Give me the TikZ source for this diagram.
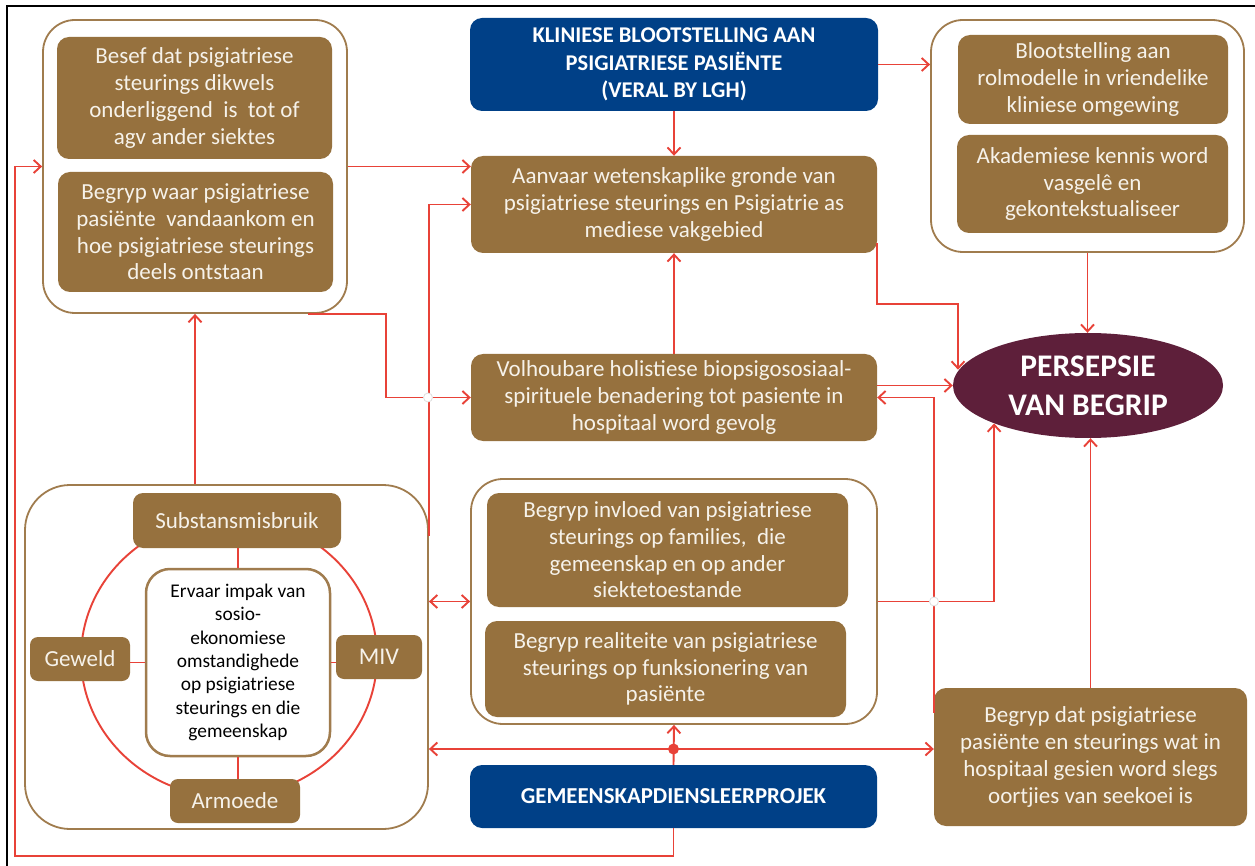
\documentclass[tikz,border=0pt]{standalone}
\usepackage{fontspec}
\setmainfont{Carlito}
\usetikzlibrary{arrows.meta,shapes.geometric,calc}
\definecolor{brn}{RGB}{150,113,62}
\definecolor{brd}{RGB}{160,124,78}
\definecolor{blu}{RGB}{0,64,135}
\definecolor{plum}{RGB}{94,31,58}
\definecolor{lred}{RGB}{232,66,56}
\definecolor{cream}{RGB}{246,242,234}
\begin{document}
\begin{tikzpicture}[x=1pt,y=-1pt,
  sz/.style 2 args={minimum width=#1pt, minimum height=#2pt},
  bx/.style={rounded corners=12pt, fill=brn, text=cream, align=center, inner sep=0pt, font=\fontsize{23}{26.7}\selectfont},
  cont/.style={draw=brd, line width=1.8pt, rounded corners=32pt, fill=white, inner sep=0pt},
  blue/.style={rounded corners=12pt, fill=blu, text=white, align=center, inner sep=0pt, font=\bfseries\fontsize{22.5}{27.5}\selectfont},
  arr/.style={draw=lred, line width=1.9pt, -{Straight Barb[length=7pt,width=13pt,line width=1.9pt]}},
  darr/.style={draw=lred, line width=1.9pt, {Straight Barb[length=7pt,width=13pt,line width=1.9pt]}-{Straight Barb[length=7pt,width=13pt,line width=1.9pt]}},
  ln/.style={draw=lred, line width=1.9pt},
  hop/.style={fill=white, draw=gray!25, line width=0.8pt}
]
\useasboundingbox (0,0) rectangle (1255,866);
\draw[line width=2pt] (7,880) -- (7,6) -- (1270,6);

% containers
\node[cont, sz={304}{293}] (tl) at (195,166.5) {};
\node[cont, sz={313}{232}] (tr) at (1087.5,136) {};
\node[cont, sz={403}{344}, rounded corners=45pt] (bl) at (226.5,657) {};
\node[cont, sz={406}{245}] (mb) at (674,601.5) {};

% top-left
\node[bx, sz={275}{122}] (tl1) at (194.5,98) {Besef dat psigiatriese\\steurings dikwels\\onderliggend\ \ is\ \ tot of\\agv ander siektes};
\node[bx, sz={275}{120}] (tl2) at (195.5,232) {Begryp waar psigiatriese\\pasiënte\ \ vandaankom en\\hoe psigiatriese steurings\\deels ontstaan};

% top centre
\node[blue, sz={408}{93}] (kb) at (674,64.5) {KLINIESE BLOOTSTELLING AAN\\PSIGIATRIESE PASIËNTE\\(VERAL BY LGH)};
\node[bx, sz={406}{97}] (aan) at (674,204.5) {Aanvaar wetenskaplike gronde van\\psigiatriese steurings en Psigiatrie as\\mediese vakgebied};

% top right
\node[bx, sz={270}{89}] (tr1) at (1093,79.5) {Blootstelling aan\\rolmodelle in vriendelike\\kliniese omgewing};
\node[bx, sz={271}{98}] (tr2) at (1092.5,184) {Akademiese kennis word\\vasgelê en\\gekontekstualiseer};

% middle
\node[bx, sz={406}{87}] (vol) at (674,397.5) {Volhoubare holistiese biopsigososiaal-\\spirituele benadering tot pasiente in\\hospitaal word gevolg};
\node[ellipse, fill=plum, text=white, align=center, inner sep=0pt, sz={270}{105}, font=\bfseries\fontsize{31.5}{39}\selectfont] (per) at (1088,385.5) {PERSEPSIE\\VAN BEGRIP};

% middle bottom
\node[bx, sz={361}{114}] (mb1) at (667.5,550) {Begryp invloed van psigiatriese\\steurings op families,\ \ die\\gemeenskap en op ander\\siektetoestande};
\node[bx, sz={361}{96}] (mb2) at (665.5,669) {Begryp realiteite van psigiatriese\\steurings op funksionering van\\pasiënte};
\node[blue, sz={407}{63}, font=\bfseries\fontsize{22.8}{26}\selectfont] (gem) at (673.5,796.5) {GEMEENSKAPDIENSLEERPROJEK};
\node[bx, sz={313}{138}] (bd) at (1090.5,757) {Begryp dat psigiatriese\\pasiënte en steurings wat in\\hospitaal gesien word slegs\\oortjies van seekoei is};

% bottom-left ring
\draw[ln] (229,657) ellipse [x radius=148, y radius=140];
\node[draw=brd, line width=2.5pt, rounded corners=24pt, fill=white, text=black, align=center, inner sep=0pt, sz={184}{187}, font=\fontsize{19.4}{23.3}\selectfont] (ctr) at (238,662.5) {Ervaar impak van\\sosio-\\ekonomiese\\omstandighede\\op psigiatriese\\steurings en die\\gemeenskap};
\node[bx, sz={208}{55}, rounded corners=10pt] (sub) at (237,520.5) {Substansmisbruik};
\node[bx, sz={100}{44}, rounded corners=8pt] (gew) at (80,659) {Geweld};
\node[bx, sz={86}{44}, rounded corners=8pt, font=\fontsize{24}{26}\selectfont] (miv) at (379,657) {MIV};
\node[bx, sz={130}{44}, rounded corners=8pt] (arm) at (235,801) {Armoede};
\draw[ln] (ctr.north) -- (ctr.north |- sub.south);
\draw[ln] (ctr.south) -- (ctr.south |- arm.north);
\draw[ln] (ctr.west) -- (ctr.west -| gew.east);
\draw[ln] (ctr.east) -- (ctr.east -| miv.west);

% connectors
\draw[arr] (kb.east) -- (kb.east -| tr.west);
\draw[arr] (kb.south) -- (aan.north);
\draw[arr] (vol.north) -- (aan.south);
\draw[arr] (tl.east) -- (tl.east -| aan.west);
\draw[arr] ($(bl.north east)+(0,52)$) |- (aan.west);
\draw[arr] ($(tl.south east)+(-40,0)$) -- ++(78,0) |- (vol.west);
\draw[arr] (bl.north -| tl.south) -- (tl.south);
\draw[arr] (gem.south) |- (15,856) |- (tl.west);
\draw[darr] (mb.west) -- (mb.west -| bl.east);
\coordinate (hub) at (673.5,749);
\draw[arr] (gem.north) -- (mb.south);
\draw[arr] (hub) -- (hub -| bl.east);
\draw[arr] (hub) -- (hub -| bd.west);
\fill[lred] (hub) circle (5.5);
\coordinate (lane) at (958,304);
\draw[arr] ($(aan.south east)+(0,-10)$) |- (lane) -- (per.173 -| lane);
\draw[arr] (vol.east |- per.west) -- (per.west);
\draw[arr] ($(bd.north west)+(0,25)$) |- (vol.east);
\draw[arr] (mb.east) -| (per.202);
\draw[arr] (bd.north) -- (bd.north |- per.south);
\draw[arr] (tr.south) -- (tr.south |- per.north);
\filldraw[hop] (428,397.5) circle (4.5);
\filldraw[hop] (934,601.5) circle (4.5);
\end{tikzpicture}
\end{document}
